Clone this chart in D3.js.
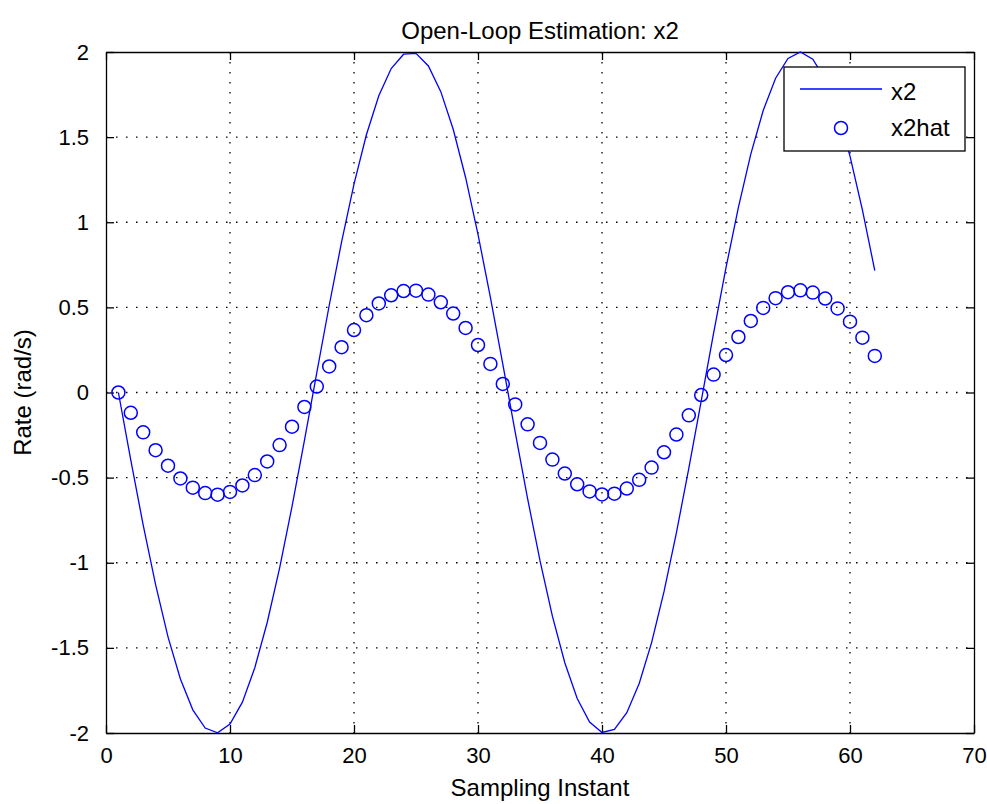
<!DOCTYPE html>
<html>
<head>
<meta charset="utf-8">
<script src="https://cdn.jsdelivr.net/npm/d3@7"></script>
<style>
  body { margin: 0; background: #fff; }
  text { font-family: "Liberation Sans", Arial, sans-serif; fill: #000; }
</style>
</head>
<body>
<div id="chart"></div>
<script>
// sampling instants 1..62
var instants = d3.range(1, 63);

// true rate x2
var x2 = [0, -0.397, -0.779, -1.129, -1.435, -1.683, -1.864, -1.971, -1.999, -1.948,
  -1.819, -1.617, -1.351, -1.031, -0.670, -0.282, 0.117, 0.511, 0.885, 1.224,
  1.514, 1.743, 1.903, 1.987, 1.992, 1.918, 1.767, 1.546, 1.263, 0.929,
  0.559, 0.166, -0.233, -0.623, -0.988, -1.314, -1.587, -1.797, -1.936, -1.997,
  -1.979, -1.881, -1.709, -1.469, -1.170, -0.824, -0.446, -0.050, 0.349, 0.733,
  1.088, 1.400, 1.656, 1.846, 1.962, 2.000, 1.958, 1.839, 1.646, 1.388,
  1.073, 0.716];

// estimated rate x2hat
var x2hat = [0, -0.119, -0.234, -0.339, -0.430, -0.505, -0.559, -0.591, -0.600, -0.584,
  -0.546, -0.485, -0.405, -0.309, -0.201, -0.085, 0.035, 0.153, 0.266, 0.367,
  0.454, 0.523, 0.571, 0.596, 0.598, 0.575, 0.530, 0.464, 0.379, 0.279,
  0.168, 0.050, -0.070, -0.187, -0.296, -0.394, -0.476, -0.539, -0.581, -0.599,
  -0.594, -0.564, -0.513, -0.441, -0.351, -0.247, -0.134, -0.015, 0.105, 0.220,
  0.326, 0.420, 0.497, 0.554, 0.589, 0.600, 0.587, 0.552, 0.494, 0.416,
  0.322, 0.215];

var xTicks = [0, 10, 20, 30, 40, 50, 60, 70];
var yTicks = [-2, -1.5, -1, -0.5, 0, 0.5, 1, 1.5, 2];

var W = 987, H = 804;
var margin = { top: 52, right: 13, bottom: 71, left: 106 };
var width = W - margin.left - margin.right,
    height = H - margin.top - margin.bottom;

var svg = d3.select("#chart").append("svg")
  .attr("width", W)
  .attr("height", H);

var g = svg.append("g")
  .attr("transform", "translate(" + margin.left + "," + margin.top + ")");

var x = d3.scaleLinear().domain([0, 70]).range([0, width]);
var y = d3.scaleLinear().domain([-2, 2]).range([height, 0]);

// matlab style labels, plain hyphen for minus
function fmt(d) { return String(d); }

// dotted grid
g.append("g").selectAll("line").data(xTicks.slice(1, -1)).enter().append("line")
  .attr("x1", function (d) { return x(d); }).attr("x2", function (d) { return x(d); })
  .attr("y1", 0).attr("y2", height)
  .attr("stroke", "#000").attr("stroke-width", 1.3)
  .attr("stroke-dasharray", "1.5,8.5");
g.append("g").selectAll("line").data(yTicks.slice(1, -1)).enter().append("line")
  .attr("y1", function (d) { return y(d); }).attr("y2", function (d) { return y(d); })
  .attr("x1", 0).attr("x2", width)
  .attr("stroke", "#000").attr("stroke-width", 1.3)
  .attr("stroke-dasharray", "1.5,8.5");

// axes with inward ticks, box style
var tick = 8;
g.append("g").attr("transform", "translate(0," + height + ")")
  .call(d3.axisBottom(x).tickValues(xTicks).tickSizeInner(-tick).tickSizeOuter(0).tickPadding(14).tickFormat(fmt));
g.append("g")
  .call(d3.axisTop(x).tickValues(xTicks).tickSizeInner(-tick).tickSizeOuter(0).tickFormat(""));
g.append("g")
  .call(d3.axisLeft(y).tickValues(yTicks).tickSizeInner(-tick).tickSizeOuter(0).tickPadding(17).tickFormat(fmt));
g.append("g").attr("transform", "translate(" + width + ",0)")
  .call(d3.axisRight(y).tickValues(yTicks).tickSizeInner(-tick).tickSizeOuter(0).tickFormat(""));

g.selectAll(".domain").attr("stroke", "#000").attr("stroke-width", 1.3);
g.selectAll(".tick line").attr("stroke", "#000").attr("stroke-width", 1.3);
g.selectAll(".tick text").style("font-size", "22px")
  .style("font-family", "'Liberation Sans', Arial, sans-serif").attr("fill", "#000");

// series
var line = d3.line()
  .x(function (d, i) { return x(instants[i]); })
  .y(function (d) { return y(d); });

g.append("path").datum(x2)
  .attr("d", line)
  .attr("fill", "none")
  .attr("stroke", "#0000ff")
  .attr("stroke-width", 1.3);

g.append("g").selectAll("circle").data(x2hat).enter().append("circle")
  .attr("cx", function (d, i) { return x(instants[i]); })
  .attr("cy", function (d) { return y(d); })
  .attr("r", 6.5)
  .attr("fill", "none")
  .attr("stroke", "#0000ff")
  .attr("stroke-width", 1.5);

// legend
var lg = svg.append("g").attr("transform", "translate(784,67)");
lg.append("rect").attr("width", 181).attr("height", 84)
  .attr("fill", "#fff").attr("stroke", "#000").attr("stroke-width", 1.3);
lg.append("line").attr("x1", 16).attr("x2", 98).attr("y1", 22).attr("y2", 22)
  .attr("stroke", "#0000ff").attr("stroke-width", 1.3);
lg.append("circle").attr("cx", 57).attr("cy", 61).attr("r", 6.5)
  .attr("fill", "none").attr("stroke", "#0000ff").attr("stroke-width", 1.5);
lg.append("text").attr("x", 107).attr("y", 25).attr("dy", "0.35em")
  .style("font-size", "24px").text("x2");
lg.append("text").attr("x", 107).attr("y", 61).attr("dy", "0.35em")
  .style("font-size", "24px").text("x2hat");

// title and labels
svg.append("text").attr("x", margin.left + width / 2).attr("y", 31).attr("dy", "0.35em")
  .attr("text-anchor", "middle").style("font-size", "24px")
  .text("Open-Loop Estimation: x2");
svg.append("text").attr("x", margin.left + width / 2).attr("y", 788).attr("dy", "0.35em")
  .attr("text-anchor", "middle").style("font-size", "24px")
  .text("Sampling Instant");
svg.append("text")
  .attr("transform", "translate(23," + (margin.top + height / 2) + ") rotate(-90)")
  .attr("dy", "0.35em")
  .attr("text-anchor", "middle").style("font-size", "24px")
  .text("Rate (rad/s)");
</script>
</body>
</html>
